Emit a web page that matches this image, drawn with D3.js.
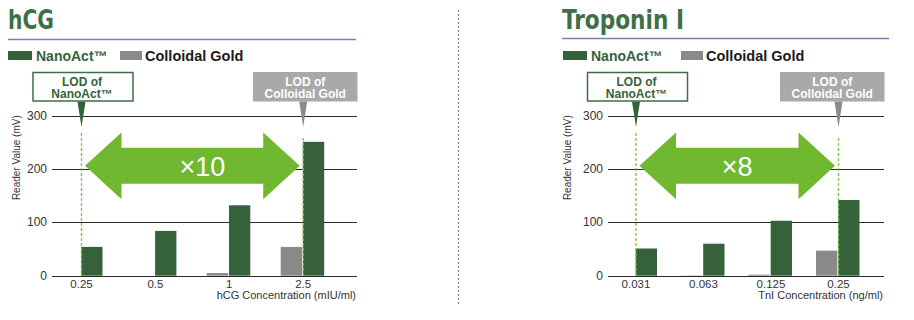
<!DOCTYPE html>
<html>
<head>
<meta charset="utf-8">
<script src="https://cdn.jsdelivr.net/npm/d3@7/dist/d3.min.js"></script>
<style>
  html, body { margin: 0; padding: 0; background: #ffffff; }
  svg { display: block; font-family: "Liberation Sans", Arial, sans-serif; }
</style>
</head>
<body>
<svg id="chart" width="914" height="320"></svg>
<script>
// ---------- data ----------
const hcgCategories = ["0.25", "0.5", "1", "2.5"];
const hcgNanoAct = [54, 84, 132, 251];
const hcgColloidalGold = [0, 0, 5, 54];

const tniCategories = ["0.031", "0.063", "0.125", "0.25"];
const tniNanoAct = [51, 60, 103, 142];
const tniColloidalGold = [0, 0.5, 2, 47];

const yTicks = [0, 100, 200, 300];
const seriesNames = ["NanoAct\u2122", "Colloidal Gold"];
const panelTitles = ["hCG", "Troponin I"];
const xAxisTitles = ["hCG Concentration (mIU/ml)", "TnI Concentration (ng/ml)"];
const yAxisTitle = "Reader Value (mV)";
const foldLabels = ["\u00d710", "\u00d78"];
const lodLabels = [["LOD of", "NanoAct\u2122"], ["LOD of", "Colloidal Gold"]];

// ---------- style ----------
const C = {
  title: "#3e6f45",
  rule: "#7b7bb2",
  nano: "#36623b",
  gold: "#8a8a8a",
  goldBox: "#a9a9a9",
  arrow: "#6fb830",
  dash: "#7cc242",
  grid: "#2a2a2a",
  text: "#333333"
};

const svg = d3.select("#chart");

// vertical dotted divider
svg.append("line")
  .attr("x1", 458.5).attr("x2", 458.5).attr("y1", 10).attr("y2", 306)
  .attr("stroke", "#777").attr("stroke-width", 1).attr("stroke-dasharray", "2,2");

const panels = [
  {
    cats: hcgCategories, nano: hcgNanoAct, gold: hcgColloidalGold,
    title: panelTitles[0], titleX: 8, titleW: 46, ruleY: 39.5, ruleX2: 356,
    legX: 8, leg2X: 120,
    gridX1: 52, gridX2: 357, c0: 80.5, step: 73.9,
    xTitle: xAxisTitles[0], yTitleX: 16, fold: foldLabels[0], foldDx: 10
  },
  {
    cats: tniCategories, nano: tniNanoAct, gold: tniColloidalGold,
    title: panelTitles[1], titleX: 562, titleW: 122, ruleY: 38.5, ruleX2: 889,
    legX: 563, leg2X: 681,
    gridX1: 608, gridX2: 884, c0: 635, step: 67.5,
    xTitle: xAxisTitles[1], yTitleX: 567, fold: foldLabels[1], foldDx: 0
  }
];

panels.forEach(p => {
  const g = svg.append("g");

  // title
  g.append("text")
    .attr("x", p.titleX).attr("y", 29)
    .style("font-family", "'DejaVu Sans Condensed', 'DejaVu Sans', sans-serif")
    .attr("font-weight", "bold").attr("font-size", 26)
    .attr("textLength", p.titleW).attr("lengthAdjust", "spacingAndGlyphs")
    .attr("fill", C.title).text(p.title);
  g.append("line")
    .attr("x1", p.titleX).attr("x2", p.ruleX2).attr("y1", p.ruleY).attr("y2", p.ruleY)
    .attr("stroke", C.rule).attr("stroke-width", 1.5);

  // legend
  g.append("rect").attr("x", p.legX).attr("y", 51).attr("width", 24).attr("height", 9).attr("fill", C.nano);
  g.append("text").attr("x", p.legX + 28).attr("y", 61).attr("font-size", 14).attr("font-weight", "bold")
    .attr("fill", C.nano).text(seriesNames[0]);
  g.append("rect").attr("x", p.leg2X).attr("y", 51).attr("width", 22).attr("height", 9).attr("fill", C.gold);
  g.append("text").attr("x", p.leg2X + 25).attr("y", 61).attr("font-size", 14.5).attr("font-weight", "bold")
    .attr("fill", "#1a1a1a").text(seriesNames[1]);

  // scales
  const n = p.cats.length;
  const x = d3.scaleBand().domain(p.cats)
    .range([p.c0 - p.step / 2, p.c0 + p.step * (n - 0.5)]).paddingInner(0).paddingOuter(0);
  const cx = c => x(c) + x.bandwidth() / 2;
  const sub = d3.scaleBand().domain(["gold", "nano"]).range([-21.5, 22]).paddingInner(0.04);
  const y = d3.scaleLinear().domain([0, 300]).range([275.7, 115.7]);

  // gridlines
  g.append("g").selectAll("line").data(yTicks).join("line")
    .attr("x1", p.gridX1).attr("x2", p.gridX2)
    .attr("y1", d => Math.round(y(d)) + 0.5).attr("y2", d => Math.round(y(d)) + 0.5)
    .attr("stroke", C.grid).attr("stroke-width", 1);

  // y tick labels
  g.append("g").selectAll("text").data(yTicks).join("text")
    .attr("x", p.gridX1 - 5).attr("y", d => y(d) + 4)
    .attr("text-anchor", "end").attr("font-size", 12).attr("fill", C.text).text(d => d);

  // y axis title
  g.append("text")
    .attr("transform", `translate(${p.yTitleX + 3.5},${(y(0) + y(300)) / 2 - 38}) rotate(-90)`)
    .attr("text-anchor", "middle").attr("font-size", 10).attr("fill", C.text).text(yAxisTitle);

  // bars
  const rows = p.cats.map((c, i) => ({ c, gold: p.gold[i], nano: p.nano[i] }));
  g.append("g").selectAll("rect.gold").data(rows).join("rect")
    .attr("x", d => cx(d.c) + sub("gold")).attr("width", sub.bandwidth())
    .attr("y", d => y(d.gold)).attr("height", d => y(0) - y(d.gold))
    .attr("fill", C.gold);
  g.append("g").selectAll("rect.nano").data(rows).join("rect")
    .attr("x", d => cx(d.c) + sub("nano")).attr("width", sub.bandwidth())
    .attr("y", d => y(d.nano)).attr("height", d => y(0) - y(d.nano))
    .attr("fill", C.nano);

  // x tick labels
  g.append("g").selectAll("text").data(p.cats).join("text")
    .attr("x", d => cx(d) + 1).attr("y", 287.5)
    .attr("text-anchor", "middle").attr("font-size", 11.5).attr("fill", C.text).text(d => d);

  // x axis title
  g.append("text").attr("x", p.gridX2 - 1).attr("y", 299)
    .attr("text-anchor", "end").attr("font-size", 11).attr("fill", C.text).text(p.xTitle);

  // LOD positions
  const lodA = cx(p.cats[0]) + 1;
  const lodB = cx(p.cats[n - 1]) + 1;

  // dashed LOD lines
  g.append("line").attr("x1", lodA).attr("x2", lodA).attr("y1", 133).attr("y2", y(0))
    .attr("stroke", C.dash).attr("stroke-width", 1.3).attr("stroke-dasharray", "3,2");
  g.append("line").attr("x1", lodB).attr("x2", lodB).attr("y1", 138).attr("y2", y(0))
    .attr("stroke", C.dash).attr("stroke-width", 1.3).attr("stroke-dasharray", "3,2");

  // double-headed arrow
  const ay = y(206), headL = 36.5, headH = 33.3, shaftH = 18;
  const L = lodA + 3.5, R = lodB - 3.5;
  const pts = [
    [L, ay], [L + headL, ay - headH], [L + headL, ay - shaftH],
    [R - headL, ay - shaftH], [R - headL, ay - headH], [R, ay],
    [R - headL, ay + headH], [R - headL, ay + shaftH],
    [L + headL, ay + shaftH], [L + headL, ay + headH]
  ];
  g.append("path").attr("d", d3.line()(pts) + "Z").attr("fill", C.arrow);
  g.append("text").attr("x", (L + R) / 2 + p.foldDx).attr("y", ay + 10)
    .attr("text-anchor", "middle").attr("font-size", 27).attr("fill", "#ffffff").text(p.fold);

  // LOD callout boxes
  const boxTop = 72.5, boxH = 28.5, tipY = 127;
  // NanoAct box
  const bAx = lodA - 48.5, bAw = 100;
  g.append("rect").attr("x", bAx).attr("y", boxTop).attr("width", bAw).attr("height", boxH)
    .attr("fill", "#fff").attr("stroke", C.title).attr("stroke-width", 1.5);
  g.append("path").attr("d", d3.line()([[lodA - 4, boxTop + boxH + 0.7], [lodA + 4, boxTop + boxH + 0.7], [lodA, tipY]]) + "Z")
    .attr("fill", C.nano);
  g.append("text").attr("x", bAx + bAw / 2 - 1).attr("y", 85.5).attr("text-anchor", "middle")
    .attr("font-size", 12).attr("font-weight", "bold").attr("fill", C.nano).text(lodLabels[0][0]);
  g.append("text").attr("x", bAx + bAw / 2 - 1).attr("y", 98).attr("text-anchor", "middle")
    .attr("font-size", 12).attr("font-weight", "bold").attr("fill", C.nano).text(lodLabels[0][1]);
  // Colloidal Gold box
  const bBx2 = p.gridX2 + 0.5, bBw = 104.5, bBx = bBx2 - bBw;
  g.append("rect").attr("x", bBx).attr("y", boxTop - 0.5).attr("width", bBw).attr("height", boxH + 1)
    .attr("fill", C.goldBox);
  g.append("path").attr("d", d3.line()([[lodB - 4, boxTop + boxH + 0.5], [lodB + 4, boxTop + boxH + 0.5], [lodB, tipY]]) + "Z")
    .attr("fill", C.gold);
  g.append("text").attr("x", bBx + bBw / 2).attr("y", 85.5).attr("text-anchor", "middle")
    .attr("font-size", 12).attr("font-weight", "bold").attr("fill", "#fff").text(lodLabels[1][0]);
  g.append("text").attr("x", bBx + bBw / 2).attr("y", 98).attr("text-anchor", "middle")
    .attr("font-size", 12).attr("font-weight", "bold").attr("fill", "#fff").text(lodLabels[1][1]);
});
</script>
</body>
</html>
